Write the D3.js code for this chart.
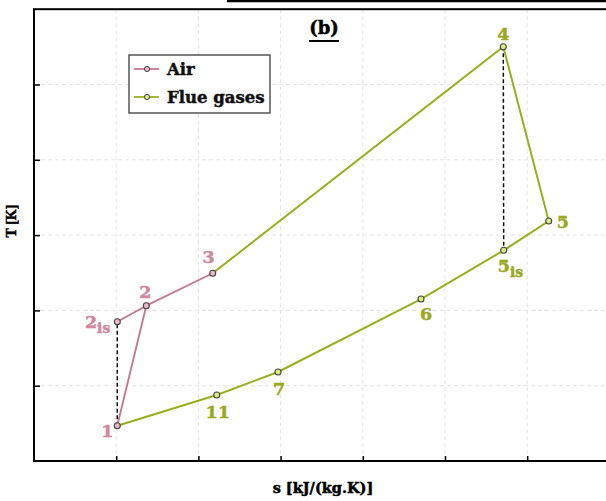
<!DOCTYPE html>
<html>
<head>
<meta charset="utf-8">
<script src="https://cdn.jsdelivr.net/npm/d3@7"></script>
<style>
    body { margin: 0; background: #fff; }
    svg { display: block; }
    .lbl { font-family: "DejaVu Serif", serif; font-weight: bold; }
    .lbl2 { font-family: "Liberation Serif", serif; font-weight: bold; }
    .heavy { stroke-width: 0.5px; }
</style>
</head>
<body>
<div id="container"></div>
<script>
"use strict";

// state points of the cycle (abstract s / T units, axis has no numbers)
const POINT_NAMES = ["1", "2is", "2", "3", "4", "5", "5is", "6", "7", "11"];
const S_VALUES = [1.013, 1.013, 1.366, 2.174, 5.709, 6.262, 5.714, 4.708, 2.968, 2.223];
const T_VALUES = [0.469, 1.85, 2.062, 2.493, 5.502, 3.187, 2.798, 2.151, 1.182, 0.876];

const AIR_PATH = ["1", "2", "3"];
const AIR_IS_PATH = ["2is", "2"];
const FLUE_PATH = ["3", "4", "5", "5is", "6", "7", "11", "1"];
const ISENTROPIC = [["1", "2is"], ["4", "5is"]];
const AIR_POINTS = ["1", "2is", "2", "3"];

const X_TICKS = [1, 2, 3, 4, 5, 6];
const Y_TICKS = [1, 2, 3, 4, 5];
const LEGEND_NAMES = ["Air", "Flue gases"];

const WIDTH = 606;
const HEIGHT = 501;

const PINK = "#c9748e";
const PINK_TEXT = "#d3869c";
const PINK_FILL = "#e9b8c4";
const GREEN = "#9aae1c";
const GREEN_TEXT = "#9aa81e";
const GREEN_FILL = "#d9ec7c";

// label placement relative to the point: [dx, dy, anchor]
const LABEL_POS = {
    "1": [-10, 11, "middle"],
    "2is": [-7, 6, "end"],
    "2": [-1, -8, "middle"],
    "3": [-4, -10, "middle"],
    "4": [0, -7, "middle"],
    "5": [8, 7, "start"],
    "5is": [-6, 22, "start"],
    "6": [5, 21, "middle"],
    "7": [1, 23, "middle"],
    "11": [1, 23, "middle"]
};

const SVG = d3.select("#container").append("svg")
    .attr("width", WIDTH)
    .attr("height", HEIGHT);

const xScale = d3.scaleLinear().domain([0, 7]).range([34, 34 + 7 * 82.2]);
const yScale = d3.scaleLinear().domain([0, 6]).range([461, 461 - 6 * 75.3]);

const points = {};
POINT_NAMES.forEach(function (name, i) {
    points[name] = { name: name, s: S_VALUES[i], t: T_VALUES[i] };
});

const line = d3.line()
    .x(d => xScale(d.s))
    .y(d => yScale(d.t));

// stray edge of the panel above
SVG.append("line")
    .attr("x1", 227).attr("x2", WIDTH)
    .attr("y1", 1).attr("y2", 1)
    .attr("stroke", "#000")
    .attr("stroke-width", 2.5);

// grid
const grid = SVG.append("g").attr("stroke", "#e4e4e4").attr("stroke-dasharray", "4,3");
grid.selectAll("line.v").data(X_TICKS).join("line")
    .attr("x1", d => xScale(d)).attr("x2", d => xScale(d))
    .attr("y1", yScale(6)).attr("y2", yScale(0));
grid.selectAll("line.h").data(Y_TICKS).join("line")
    .attr("x1", xScale(0)).attr("x2", xScale(7))
    .attr("y1", d => yScale(d)).attr("y2", d => yScale(d));

// axes with inward ticks, no numbers
const xaxis = d3.axisBottom(xScale).tickValues(X_TICKS).tickFormat("").tickSizeInner(-5).tickSizeOuter(0);
const yaxis = d3.axisLeft(yScale).tickValues(Y_TICKS).tickFormat("").tickSizeInner(-6).tickSizeOuter(0);

SVG.append("g").attr("transform", `translate(0, ${yScale(0)})`).call(xaxis)
    .call(g => g.select(".domain").remove())
    .selectAll("line").attr("stroke-width", 1.5);
SVG.append("g").attr("transform", `translate(${xScale(0)}, 0)`).call(yaxis)
    .call(g => g.select(".domain").remove())
    .selectAll("line").attr("stroke-width", 1.5);

SVG.append("rect")
    .attr("x", xScale(0)).attr("y", yScale(6))
    .attr("width", xScale(7) - xScale(0))
    .attr("height", yScale(0) - yScale(6))
    .attr("fill", "none")
    .attr("stroke", "#000")
    .attr("stroke-width", 2);

// isentropic dashed lines
ISENTROPIC.forEach(function (pair) {
    SVG.append("path")
        .attr("d", line(pair.map(n => points[n])))
        .attr("fill", "none")
        .attr("stroke", "#111")
        .attr("stroke-width", 1.5)
        .attr("stroke-dasharray", "4,2.5");
});

// lines
SVG.append("path").attr("d", line(FLUE_PATH.map(n => points[n])))
    .attr("fill", "none").attr("stroke", GREEN).attr("stroke-width", 2);
[AIR_PATH, AIR_IS_PATH].forEach(function (p) {
    SVG.append("path").attr("d", line(p.map(n => points[n])))
        .attr("fill", "none").attr("stroke", PINK).attr("stroke-width", 1.8);
});

// markers
SVG.append("g").selectAll("circle").data(Object.values(points)).join("circle")
    .attr("cx", d => xScale(d.s))
    .attr("cy", d => yScale(d.t))
    .attr("r", 3)
    .attr("fill", d => AIR_POINTS.includes(d.name) ? PINK_FILL : GREEN_FILL)
    .attr("stroke", "#444")
    .attr("stroke-width", 1.1);

// point labels
const labels = SVG.append("g").selectAll("text").data(Object.values(points)).join("text")
    .attr("class", "lbl heavy")
    .attr("x", d => xScale(d.s) + LABEL_POS[d.name][0])
    .attr("y", d => yScale(d.t) + LABEL_POS[d.name][1])
    .attr("text-anchor", d => LABEL_POS[d.name][2])
    .attr("font-size", 17.5)
    .attr("fill", d => AIR_POINTS.includes(d.name) ? PINK_TEXT : GREEN_TEXT)
    .attr("stroke", d => AIR_POINTS.includes(d.name) ? PINK_TEXT : GREEN_TEXT);

labels.each(function (d) {
    const t = d3.select(this);
    if (d.name.endsWith("is")) {
        t.append("tspan").text(d.name.replace("is", ""));
        t.append("tspan").attr("font-size", 14).attr("dy", 5).text("is");
    } else {
        t.text(d.name);
    }
});

// title
SVG.append("text").attr("class", "lbl heavy")
    .attr("x", 324).attr("y", 34)
    .attr("text-anchor", "middle")
    .attr("font-size", 18)
    .attr("stroke", "#000")
    .text("(b)");
SVG.append("line")
    .attr("x1", 309).attr("x2", 339)
    .attr("y1", 41).attr("y2", 41)
    .attr("stroke", "#000").attr("stroke-width", 2);

// legend
const legend = SVG.append("g");
legend.append("rect")
    .attr("x", 129).attr("y", 55)
    .attr("width", 141).attr("height", 58)
    .attr("fill", "#fff")
    .attr("stroke", "#555")
    .attr("stroke-width", 1.5);

LEGEND_NAMES.forEach(function (name, i) {
    const yy = 69 + i * 28;
    const col = i === 0 ? PINK : GREEN;
    legend.append("line")
        .attr("x1", 134).attr("x2", 159)
        .attr("y1", yy).attr("y2", yy)
        .attr("stroke", col).attr("stroke-width", 1.8);
    legend.append("circle")
        .attr("cx", 147).attr("cy", yy).attr("r", 2.6)
        .attr("fill", i === 0 ? PINK_FILL : GREEN_FILL)
        .attr("stroke", "#444").attr("stroke-width", 1);
    legend.append("text").attr("class", "lbl heavy")
        .attr("x", 167).attr("y", yy + 6)
        .attr("font-size", 16.5)
        .attr("fill", "#111")
        .attr("stroke", "#111")
        .text(name);
});

// axis titles
SVG.append("text").attr("class", "lbl heavy")
    .attr("x", 323).attr("y", 493)
    .attr("text-anchor", "middle")
    .attr("font-size", 14.5)
    .attr("stroke", "#000")
    .text("s [kJ/(kg.K)]");

SVG.append("text").attr("class", "lbl2 heavy")
    .attr("transform", "translate(16, 221) rotate(-90)")
    .attr("text-anchor", "middle")
    .attr("font-size", 14)
    .attr("stroke", "#000")
    .text("T [K]");
</script>
</body>
</html>
